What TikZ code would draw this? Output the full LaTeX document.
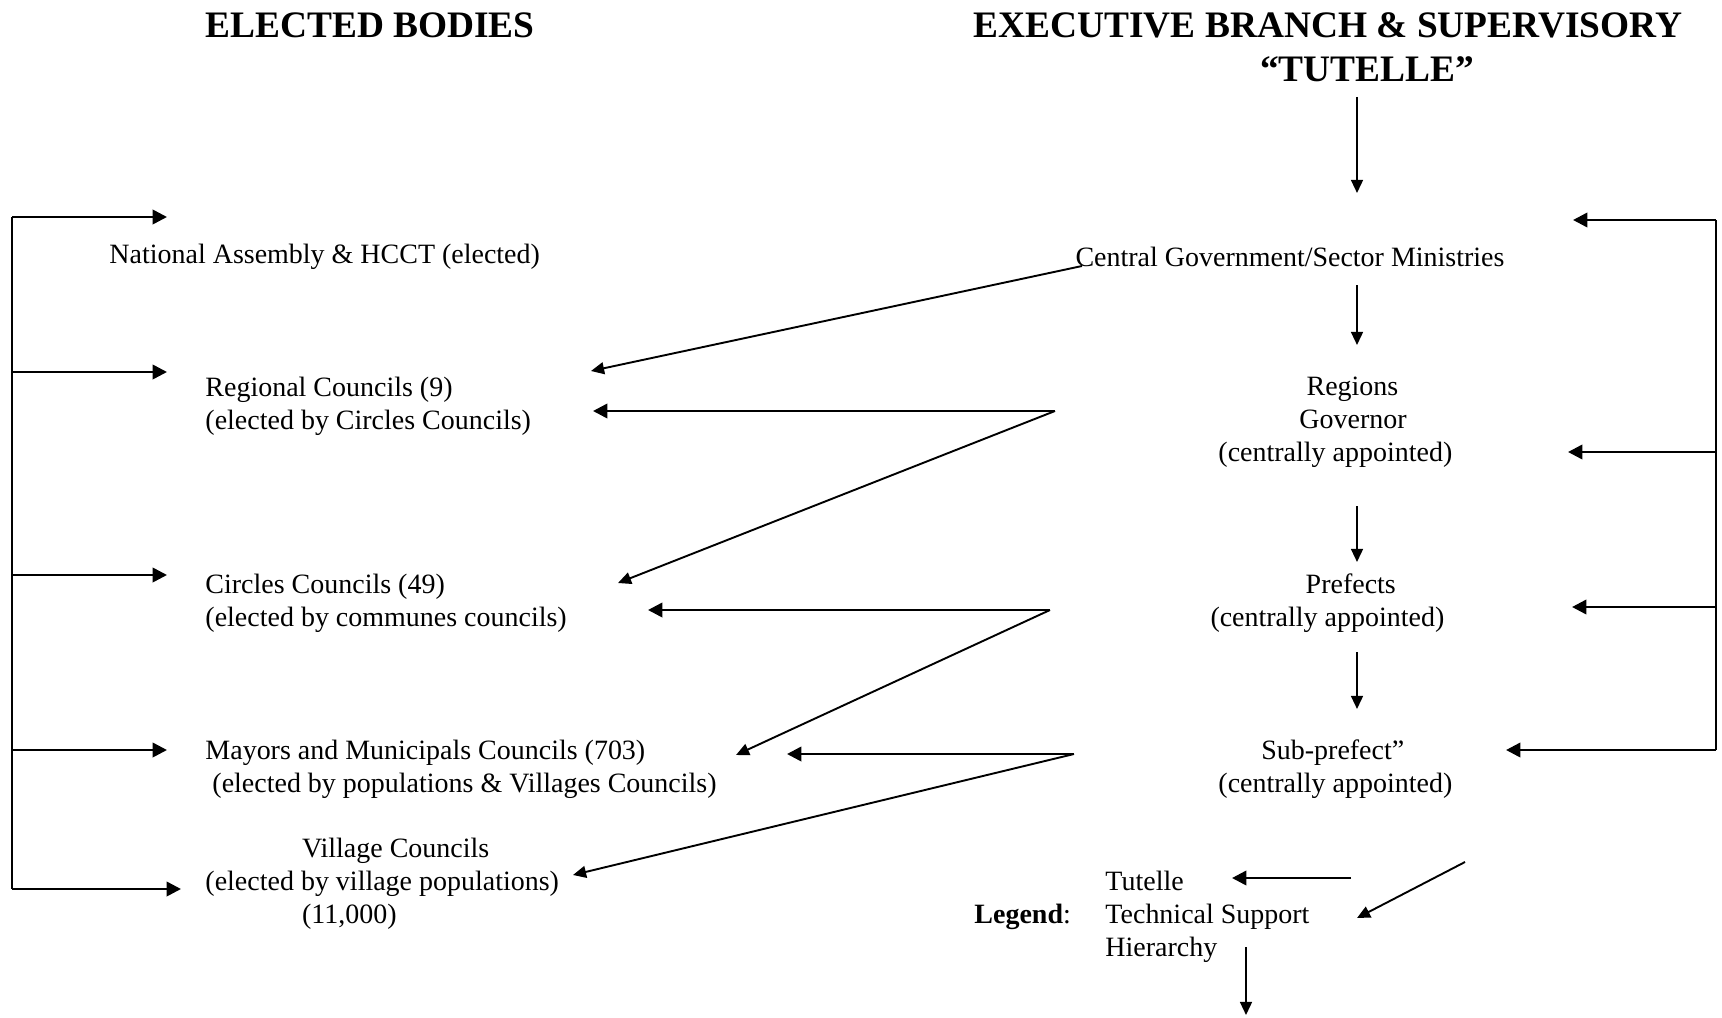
\documentclass[tikz,border=0pt]{standalone}
\usepackage{fontspec}
\setmainfont{Liberation Serif}
\usetikzlibrary{arrows.meta}

\begin{document}
\begin{tikzpicture}[x=0.42pt,y=-0.42pt]
      \tikzstyle{point} = [coordinate]
      \tikzstyle{title} = [font=\fontsize{15.7}{17}\selectfont\bfseries, inner sep=0]
      \tikzstyle{body} = [font=\fontsize{11.75}{13.9}\selectfont, inner sep=0]
      \tikzstyle{link} = [line width=0.8pt, -{Triangle[length=5.5pt,width=5pt]}]
      \tikzstyle{feed} = [line width=1.1pt, -{Triangle[length=6pt,width=6pt]}]
      \useasboundingbox (0,0) rectangle (1722,1017);
      % titles
      \node (elected) [title] at (370,25) {ELECTED BODIES};
      \node (executive) [title] at (1328,25) {EXECUTIVE BRANCH \& SUPERVISORY};
      \node (tutelle) [title] at (1367,69) {``TUTELLE''};
      % elected bodies
      \node (national) [body, anchor=west] at (109,257) {National Assembly \& HCCT (elected)};
      \node (regional) [body, anchor=west, align=left] at (205,406) {Regional Councils (9)\\(elected by Circles Councils)};
      \node (circles) [body, anchor=west, align=left] at (205,603) {Circles Councils (49)\\(elected by communes councils)};
      \node (mayors) [body, anchor=west, align=left] at (205,769) {Mayors and Municipals Councils (703)\\~(elected by populations \& Villages Councils)};
      \node (village) [body, anchor=west, align=left] at (205,884) {\hspace*{40.6pt}Village Councils\\(elected by village populations)\\\hspace*{40.6pt}(11,000)};
      % executive branch
      \node (central) [body] at (1290,257) {Central Government/Sector Ministries};
      \node (regions) [body, anchor=west, align=left] at (1218,422) {\hspace*{37pt}Regions\\\hspace*{34pt}Governor\\(centrally appointed)};
      \node (prefects) [body, anchor=west, align=left] at (1210,603) {\hspace*{40pt}Prefects\\(centrally appointed)};
      \node (subprefect) [body, anchor=west, align=left] at (1218,769) {\hspace*{18pt}Sub-prefect''\\(centrally appointed)};
      % legend
      \node (legend) [body, anchor=west] at (974,917) {\textbf{Legend}:};
      \node (key) [body, anchor=west, align=left] at (1105,917) {Tutelle\\Technical Support\\Hierarchy};
      % points
      \node (l1) [point] at (12,217) {};
      \node (l2) [point] at (12,372) {};
      \node (l3) [point] at (12,575) {};
      \node (l4) [point] at (12,750) {};
      \node (l5) [point] at (12,889) {};
      \node (la1) [point] at (167,217) {};
      \node (la2) [point] at (167,372) {};
      \node (la3) [point] at (167,575) {};
      \node (la4) [point] at (167,750) {};
      \node (la5) [point] at (181,889) {};
      \node (r1) [point] at (1716,220) {};
      \node (r2) [point] at (1716,452) {};
      \node (r3) [point] at (1716,607) {};
      \node (r4) [point] at (1716,750) {};
      \node (ra1) [point] at (1573,220) {};
      \node (ra2) [point] at (1568,452) {};
      \node (ra3) [point] at (1572,607) {};
      \node (ra4) [point] at (1506,750) {};
      \node (v0) [point] at (1357,97) {};
      \node (v1) [point] at (1357,193) {};
      \node (v2) [point] at (1357,285) {};
      \node (v3) [point] at (1357,345) {};
      \node (v4) [point] at (1357,506) {};
      \node (v5) [point] at (1357,562) {};
      \node (v6) [point] at (1357,652) {};
      \node (v7) [point] at (1357,709) {};
      \node (c0) [point] at (1082,266) {};
      \node (c1) [point] at (591,371) {};
      \node (j1) [point] at (1055,411) {};
      \node (j1a) [point] at (593,411) {};
      \node (j1b) [point] at (618,583) {};
      \node (j2) [point] at (1050,610) {};
      \node (j2a) [point] at (648,610) {};
      \node (j2b) [point] at (736,755) {};
      \node (j3) [point] at (1074,754) {};
      \node (j3a) [point] at (787,754) {};
      \node (j3b) [point] at (573,875) {};
      \node (k1) [point] at (1351,878) {};
      \node (k1a) [point] at (1232,878) {};
      \node (k2) [point] at (1465,862) {};
      \node (k2a) [point] at (1357,918) {};
      \node (k3) [point] at (1246,947) {};
      \node (k3a) [point] at (1246,1015) {};
      % left bracket
      \draw [line width=1.1pt] (l1)--(l5);
      \draw [feed] (l1)--(la1);
      \draw [feed] (l2)--(la2);
      \draw [feed] (l3)--(la3);
      \draw [feed] (l4)--(la4);
      \draw [feed] (l5)--(la5);
      % right bracket
      \draw [line width=1.1pt] (r1)--(r4);
      \draw [feed] (r1)--(ra1);
      \draw [feed] (r2)--(ra2);
      \draw [feed] (r3)--(ra3);
      \draw [feed] (r4)--(ra4);
      % hierarchy
      \draw [link] (v0)--(v1);
      \draw [link] (v2)--(v3);
      \draw [link] (v4)--(v5);
      \draw [link] (v6)--(v7);
      % tutelle and technical support
      \draw [link] (c0)--(c1);
      \draw [feed] (j1)--(j1a);
      \draw [link] (j1)--(j1b);
      \draw [feed] (j2)--(j2a);
      \draw [link] (j2)--(j2b);
      \draw [feed] (j3)--(j3a);
      \draw [link] (j3)--(j3b);
      % legend arrows
      \draw [feed] (k1)--(k1a);
      \draw [link] (k2)--(k2a);
      \draw [link] (k3)--(k3a);
\end{tikzpicture}
\end{document}
